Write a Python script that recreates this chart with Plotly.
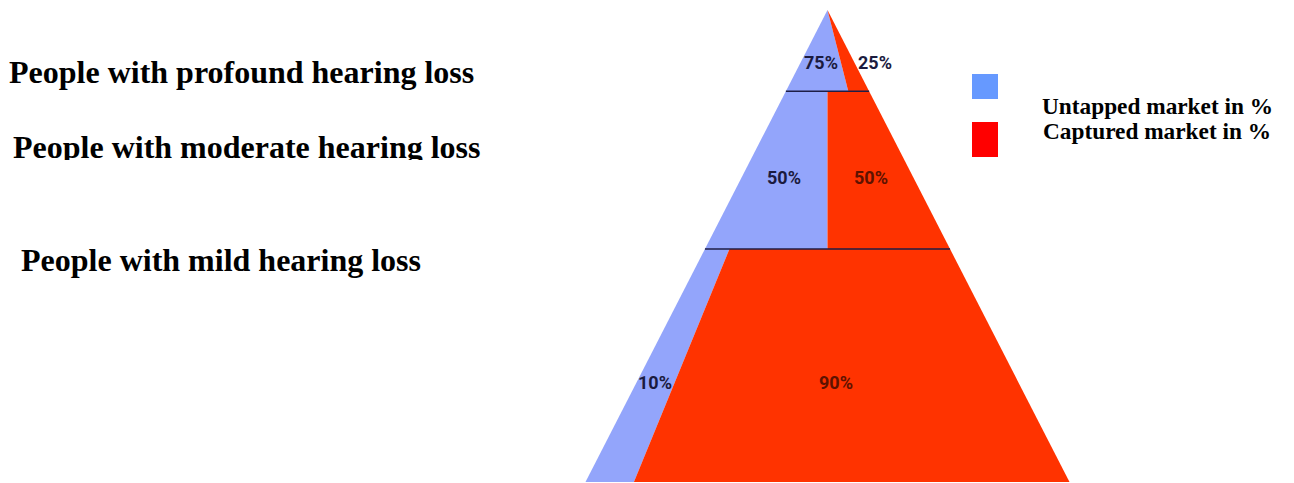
import plotly.graph_objects as go

# ---- data -------------------------------------------------------------
segments = ["People with profound hearing loss",
            "People with moderate hearing loss",
            "People with mild hearing loss"]
untapped_pct = [75, 50, 10]
captured_pct = [25, 50, 90]
legend_labels = ["Untapped market in %", "Captured market in %"]

# ---- layout constants ---------------------------------------------------
W, H = 1294, 483
APEX_X_PX, APEX_Y_PX, BASE_Y_PX, HALF_BASE_PX = 827.5, 10, 482, 242
# tier boundaries in pyramid height units (0 = base, 1 = apex), top -> bottom
tier_top = [1.0, 0.828, 0.4936]
tier_bottom = [0.828, 0.4936, 0.0]
# vertical position of the value labels inside each tier (fraction of tier height)
label_frac = [0.35, 0.45, 0.425]
# horizontal nudge of the captured-share label (pixels)
captured_dx_px = [20, 0, -11]
# segment-name placement (pixels from the top-left corner)
name_x_px = [7, 13, 19]
name_y_px = [72, 150, 260]
NAME_CLIP_PX = 160  # lower edge of the band that holds the middle name
# legend text rows (pixels from top)
legend_y_px = [105.5, 131.5]

BLUE = "#93a5fb"
RED = "#ff3300"
LINE = "#1e1e46"
TXT_BLUE = "#1b1b3f"
TXT_RED = "#5e1200"

SERIF = "Liberation Serif, Times New Roman, serif"
SANS = "Roboto, Liberation Sans, Arial, sans-serif"
NAME_SIZE = 32
PCT_SIZE = 18
LEGEND_SIZE = 23.3


def half_width(y):
    return 1.0 - y


def split_x(y, p):
    # divider so that the left share of every horizontal slice equals p
    return -half_width(y) + 2 * half_width(y) * p / 100.0


fig = go.Figure()

for i, seg in enumerate(segments):
    y0, y1 = tier_bottom[i], tier_top[i]
    p = untapped_pct[i]
    # untapped (left) part
    fig.add_trace(go.Scatter(
        x=[-half_width(y0), split_x(y0, p), split_x(y1, p), -half_width(y1), -half_width(y0)],
        y=[y0, y0, y1, y1, y0],
        fill="toself", fillcolor=BLUE, mode="lines", line=dict(width=0),
        hoverinfo="skip", showlegend=False))
    # captured (right) part
    fig.add_trace(go.Scatter(
        x=[split_x(y0, p), half_width(y0), half_width(y1), split_x(y1, p), split_x(y0, p)],
        y=[y0, y0, y1, y1, y0],
        fill="toself", fillcolor=RED, mode="lines", line=dict(width=0),
        hoverinfo="skip", showlegend=False))

# separator lines between tiers
for yb in tier_bottom[:-1]:
    fig.add_trace(go.Scatter(
        x=[-half_width(yb), half_width(yb)], y=[yb, yb], mode="lines",
        line=dict(color=LINE, width=1.6), hoverinfo="skip", showlegend=False))

# value labels
for i in range(len(segments)):
    y0, y1 = tier_bottom[i], tier_top[i]
    p = untapped_pct[i]
    ly = y0 + label_frac[i] * (y1 - y0)
    left, right, mid = -half_width(ly), half_width(ly), split_x(ly, p)
    fig.add_annotation(x=(left + mid) / 2, y=ly, text=f"<b>{untapped_pct[i]}%</b>",
                       showarrow=False, font=dict(family=SANS, size=PCT_SIZE, color=TXT_BLUE))
    if captured_pct[i] < 30:
        cx, col = right, TXT_BLUE
    else:
        cx, col = (mid + right) / 2, TXT_RED
    cx += captured_dx_px[i] / HALF_BASE_PX
    fig.add_annotation(x=cx, y=ly, text=f"<b>{captured_pct[i]}%</b>",
                       showarrow=False, font=dict(family=SANS, size=PCT_SIZE, color=col))

# segment names on the left; the middle one sits in its own clipped band
for i, seg in enumerate(segments):
    if i == 1:
        continue
    fig.add_annotation(xref="paper", yref="paper", x=name_x_px[i] / W,
                       y=1 - name_y_px[i] / H, xanchor="left", yanchor="middle",
                       text=f"<b>{seg}</b>", showarrow=False,
                       font=dict(family=SERIF, size=NAME_SIZE, color="black"))
fig.add_trace(go.Scatter(
    x=[name_x_px[1]], y=[name_y_px[1]], mode="text", text=[f"<b>{segments[1]}</b>"],
    textposition="middle right", cliponaxis=True,
    textfont=dict(family=SERIF, size=NAME_SIZE, color="black"),
    xaxis="x2", yaxis="y2", hoverinfo="skip", showlegend=False))

# legend keys
key_boxes = [(972, 74, 998, 99, "#6699ff"), (972, 122, 998, 157, "#ff0000")]
for x0, y0, x1, y1, c in key_boxes:
    fig.add_shape(type="rect", xref="paper", yref="paper",
                  x0=x0 / W, x1=x1 / W, y0=1 - y1 / H, y1=1 - y0 / H,
                  fillcolor=c, line=dict(width=0))
for j, lab in enumerate(legend_labels):
    fig.add_annotation(xref="paper", yref="paper", x=1157 / W, y=1 - legend_y_px[j] / H,
                       xanchor="center", yanchor="middle", text=f"<b>{lab}</b>",
                       showarrow=False, font=dict(family=SERIF, size=LEGEND_SIZE, color="black"))

span = BASE_Y_PX - APEX_Y_PX
BAND_W = 600
fig.update_layout(
    width=W, height=H, margin=dict(l=0, r=0, t=0, b=0),
    paper_bgcolor="white", plot_bgcolor="rgba(0,0,0,0)",
    xaxis=dict(range=[(0 - APEX_X_PX) / HALF_BASE_PX, (W - APEX_X_PX) / HALF_BASE_PX],
               visible=False, fixedrange=True, domain=[0, 1]),
    yaxis=dict(range=[(BASE_Y_PX - H) / span, BASE_Y_PX / span],
               visible=False, fixedrange=True, domain=[0, 1]),
    xaxis2=dict(range=[0, BAND_W], domain=[0, BAND_W / W], anchor="y2",
                visible=False, fixedrange=True),
    yaxis2=dict(range=[NAME_CLIP_PX, 0], domain=[1 - NAME_CLIP_PX / H, 1], anchor="x2",
                visible=False, fixedrange=True),
)

fig.write_html("out.html")
